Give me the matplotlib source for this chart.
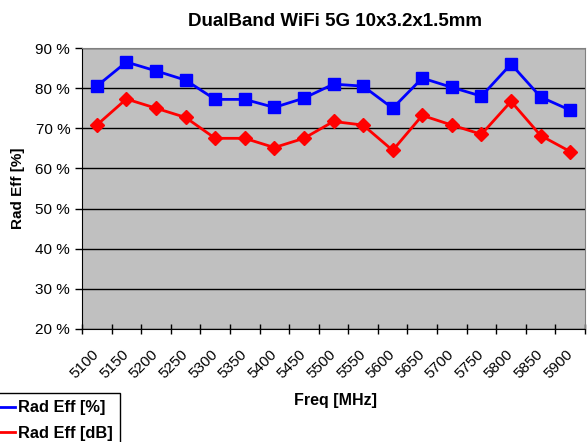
import numpy as np
import matplotlib.pyplot as plt
from matplotlib.ticker import FixedLocator

plt.rcParams['font.family'] = ['Liberation Sans', 'DejaVu Sans']

freqs = [5100, 5150, 5200, 5250, 5300, 5350, 5400, 5450, 5500,
         5550, 5600, 5650, 5700, 5750, 5800, 5850, 5900]
eff_pct = [80.5, 86.5, 84.3, 82.0, 77.2, 77.2, 75.2, 77.5, 81.0,
           80.5, 75.0, 82.5, 80.2, 78.0, 86.0, 77.8, 74.5]
eff_db = [70.8, 77.3, 75.0, 72.7, 67.5, 67.5, 65.2, 67.5, 71.7,
          70.8, 64.5, 73.2, 70.8, 68.5, 76.7, 68.2, 64.2]
yticks = [20, 30, 40, 50, 60, 70, 80, 90]

W, H = 587, 442
fig = plt.figure(figsize=(W / 100, H / 100), dpi=100)
ax = fig.add_axes([82 / W, 113 / H, 503 / W, 281 / H])
ax.set_facecolor('#C0C0C0')

x = np.arange(len(freqs))
ax.plot(x, eff_pct, color='#0000FF', lw=2, marker='s', ms=9, label='Rad Eff [%]', zorder=3)
ax.plot(x, eff_db, color='#FF0000', lw=2, marker='D', ms=7.5, label='Rad Eff [dB]', zorder=3)

ax.set_xlim(-0.5, len(freqs) - 0.5)
ax.set_ylim(20, 90)
ax.set_yticks(yticks)
ax.set_yticklabels([f'{v} %' for v in yticks], fontsize=11)
ax.yaxis.grid(True, color='black', lw=1)
ax.set_axisbelow(True)

# category labels centred, boundary tick marks like Excel
ax.set_xticks(x)
ax.set_xticklabels([str(f) for f in freqs], rotation=45, ha='right', va='center',
                   rotation_mode='anchor', fontsize=11)
ax.tick_params(axis='x', which='major', length=0, pad=17)
ax.xaxis.set_minor_locator(FixedLocator(np.arange(-0.5, len(freqs), 1.0)))
ax.tick_params(axis='x', which='minor', length=7, direction='inout', width=1)
ax.tick_params(axis='y', length=5, direction='out', width=1)

for s in ['top', 'right']:
    ax.spines[s].set_color('#808080')
for s in ['left', 'bottom']:
    ax.spines[s].set_color('black')

fig.text(335.5 / W, 1 - 21 / H, 'DualBand WiFi 5G 10x3.2x1.5mm', fontsize=13.5,
         fontweight='bold', ha='center', va='center')
fig.text(335 / W, 1 - 400 / H, 'Freq [MHz]', fontsize=11.5, fontweight='bold',
         ha='center', va='center')
fig.text(18 / W, 1 - 188 / H, 'Rad Eff [%]', fontsize=11, fontweight='bold',
         ha='center', va='center', rotation=90)

leg = fig.legend(loc='upper right', bbox_to_anchor=(120 / W, 1 - 393 / H),
                 prop={'weight': 'bold', 'size': 11.8}, frameon=True, fancybox=False,
                 edgecolor='black', framealpha=1, handlelength=1.8, markerscale=0.0001,
                 borderpad=0.45, labelspacing=0.65, handletextpad=0.15, borderaxespad=0)
leg.get_frame().set_linewidth(1)

fig.savefig('out.png', dpi=100)
